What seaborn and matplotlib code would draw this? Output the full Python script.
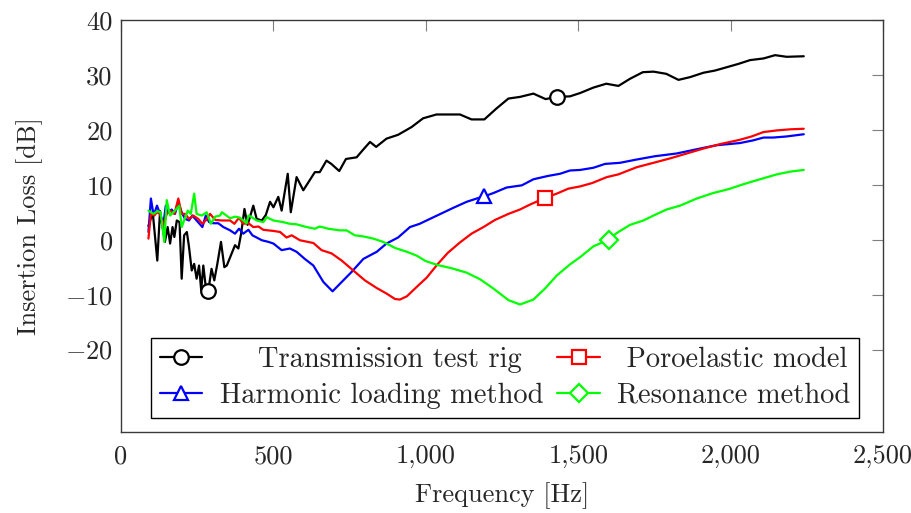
import numpy as np
import pandas as pd
import matplotlib
matplotlib.use("Agg")
import matplotlib.pyplot as plt
from matplotlib.ticker import FixedLocator, FuncFormatter
import seaborn as sns

# Measured insertion loss spectra
rig_f = [90, 104, 119, 128, 144, 153, 161, 169, 175, 183, 192, 199, 207, 216, 223,
         232, 240, 248, 256, 263, 270, 278, 286, 297, 306, 316, 328, 339, 347, 358,
         374, 385, 394, 405, 415, 425, 434, 445, 462, 475, 489, 500, 516, 527, 547,
         557, 576, 598, 636, 652, 674, 690, 716, 738, 773, 793, 817, 837, 871, 909,
         953, 991, 1035, 1112, 1150, 1192, 1232, 1271, 1309, 1353, 1393, 1429, 1473,
         1506, 1550, 1592, 1632, 1670, 1712, 1747, 1789, 1829, 1867, 1911, 1949,
         1987, 2025, 2064, 2108, 2146, 2184, 2240]
rig_il = [2.5, 5.0, -3.8, 5.2, -0.4, 2.3, -0.7, 2.3, 0.5, 3.5, 3.2, -7.1, 0.8, 1.4, -1.3,
          -5.6, -4.4, -7.1, -4.7, -9.2, -4.7, -8.6, -9.4, -5.3, -7.4, -4.4, -0.4, -5.0, -4.7, -3.2,
          -1.0, -1.6, 1.1, 5.6, 2.7, 4.5, 6.2, 3.8, 3.5, 4.5, 6.9, 5.9, 7.8, 5.3, 12.0,
          5.0, 11.4, 9.0, 12.3, 12.3, 14.4, 13.8, 12.5, 14.7, 15.0, 16.3, 17.8, 16.9, 18.4, 19.1,
          20.5, 22.1, 22.8, 22.8, 21.9, 21.9, 23.9, 25.7, 26.0, 26.6, 25.6, 26.0, 26.1,
          26.7, 27.7, 28.4, 28.0, 29.3, 30.5, 30.6, 30.2, 29.1, 29.6, 30.4, 30.8,
          31.4, 32.0, 32.7, 33.0, 33.6, 33.3, 33.4]

harm_f = [90, 98, 107, 118, 128, 139, 147, 155, 166, 177, 188, 199, 210, 223, 234,
          248, 267, 278, 289, 303, 319, 336, 358, 374, 387, 401, 418, 431, 445, 462,
          484, 500, 527, 554, 576, 603, 631, 664, 694, 724, 756, 795, 839, 871, 909,
          948, 980, 1014, 1052, 1090, 1134, 1167, 1192, 1222, 1265, 1315, 1353, 1400,
          1440, 1473, 1506, 1550, 1588, 1637, 1692, 1752, 1823, 1900, 1954, 2031,
          2075, 2108, 2140, 2184, 2240]
harm_il = [1.4, 7.5, 4.4, 6.2, 4.7, 2.9, 6.2, 5.0, 5.5, 4.7, 6.8, 5.0, 3.8, 3.5, 4.4,
           3.5, 2.3, 4.4, 3.2, 3.0, 3.0, 2.3, 1.7, 1.1, 2.0, 1.1, 1.8, 0.8, 0.4, -0.1,
           -0.4, -0.7, -1.9, -1.6, -2.2, -3.5, -4.7, -7.7, -9.4, -7.7, -5.9, -3.5, -2.2, -0.7, 0.4,
           2.3, 2.9, 3.8, 4.8, 5.8, 6.9, 7.5, 7.9, 8.5, 9.5, 9.9, 11.0, 11.6,
           12.0, 12.6, 12.7, 13.1, 13.8, 14.0, 14.6, 15.2, 15.7, 16.6, 17.2, 17.6,
           18.1, 18.6, 18.6, 18.8, 19.2]

poro_f = [90, 98, 109, 118, 128, 139, 150, 161, 175, 188, 199, 210, 223, 237, 253,
          267, 278, 292, 309, 331, 358, 372, 387, 401, 418, 434, 451, 467, 500, 522,
          543, 560, 587, 631, 658, 691, 724, 762, 800, 839, 871, 899, 915, 938, 970,
          1003, 1038, 1072, 1112, 1150, 1189, 1227, 1271, 1309, 1342, 1391, 1430, 1468,
          1506, 1545, 1594, 1632, 1692, 1747, 1801, 1856, 1911, 1965, 2031, 2069,
          2108, 2152, 2196, 2240]
poro_il = [0.2, 4.7, 4.4, 5.0, 4.7, 2.6, 4.7, 5.3, 4.7, 7.5, 4.7, 4.7, 3.8, 4.4, 3.8,
           2.9, 3.5, 4.7, 3.6, 3.5, 3.5, 2.9, 4.0, 2.9, 3.0, 2.3, 2.4, 1.8, 1.6, 1.4,
           0.4, 0.8, -0.1, -0.6, -1.9, -2.5, -3.8, -5.6, -7.4, -8.8, -9.8, -10.8, -10.9, -10.3, -8.6,
           -6.9, -4.5, -2.4, -0.5, 1.1, 2.3, 3.6, 4.7, 5.5, 6.4, 7.6, 8.4, 9.3,
           9.7, 10.3, 11.4, 11.9, 13.2, 14.0, 14.8, 15.7, 16.6, 17.4, 18.2, 18.8,
           19.6, 19.9, 20.1, 20.2]

reso_f = [90, 106, 120, 130, 142, 150, 161, 177, 191, 199, 219, 229, 240, 248, 265,
          281, 295, 309, 325, 331, 358, 374, 390, 412, 418, 429, 445, 467, 478, 500,
          532, 554, 576, 609, 636, 652, 680, 718, 740, 767, 795, 828, 860, 882, 899,
          938, 970, 1000, 1038, 1085, 1134, 1178, 1222, 1271, 1309, 1353, 1391, 1430,
          1473, 1508, 1550, 1600, 1626, 1670, 1714, 1747, 1790, 1834, 1889, 1943,
          1993, 2042, 2096, 2152, 2196, 2240]
reso_il = [5.3, 4.7, 5.2, 5.0, -0.4, 7.2, 4.4, 5.3, 6.2, 2.3, 5.3, 4.7, 8.4, 4.7, 4.4,
           5.0, 2.9, 4.2, 4.4, 5.0, 3.9, 4.2, 4.0, 3.0, 4.4, 4.1, 3.5, 3.2, 4.1, 3.5,
           3.2, 2.9, 2.8, 2.3, 2.0, 2.4, 2.0, 1.7, 1.7, 0.8, 0.6, 0.2, -0.4, -1.0, -1.5,
           -2.2, -2.9, -3.9, -4.6, -5.2, -6.0, -7.2, -8.9, -11.0, -11.8, -10.9, -8.9, -6.5,
           -4.5, -3.1, -1.2, 0.0, 1.2, 2.7, 3.5, 4.4, 5.5, 6.2, 7.5, 8.5,
           9.2, 10.1, 11.0, 11.9, 12.4, 12.7]

# (label, frequencies, values, colour, marker, where to place the marker)
series = [
    ("Transmission test rig", rig_f, rig_il, "black", "o", [286, 1429]),
    ("Harmonic loading method", harm_f, harm_il, "blue", "^", [1192]),
    ("Poroelastic model", poro_f, poro_il, "red", "s", [1391]),
    ("Resonance method", reso_f, reso_il, "#00ff00", "D", [1600]),
]
# leading padding so that legend labels sit centred in their column
label_pad = {"Transmission test rig": "    ", "Harmonic loading method": "",
             "Poroelastic model": " ", "Resonance method": ""}

FS = 19
LEG_FS = 20.5

sns.set_theme(style="white")
plt.rcParams["font.family"] = ["cmr10", "DejaVu Serif"]
plt.rcParams["mathtext.fontset"] = "cm"
plt.rcParams["axes.formatter.use_mathtext"] = True

fig = plt.figure(figsize=(9.12, 5.13), dpi=100)
ax = fig.add_axes([0.1327, 0.158, 0.8355, 0.803])

for name, f, il, col, mk, mark_at in series:
    df = pd.DataFrame({"Frequency": f, "IL": il})
    idx = [int(np.argmin(np.abs(np.asarray(f) - m))) for m in mark_at]
    sns.lineplot(data=df, x="Frequency", y="IL", ax=ax, color=col, lw=1.6,
                 sort=False, estimator=None, marker=mk, markevery=idx,
                 markersize=10.5 if mk != "D" else 9.5, markerfacecolor="white",
                 markeredgecolor=col, markeredgewidth=1.6,
                 label=label_pad[name] + name)

ax.set_xlim(0, 2500)
ax.set_ylim(-35, 40)
ax.xaxis.set_major_locator(FixedLocator([0, 500, 1000, 1500, 2000, 2500]))
ax.yaxis.set_major_locator(FixedLocator([-20, -10, 0, 10, 20, 30, 40]))


def fmt(v, pos):
    v = int(round(v))
    s = f"{abs(v):,}"
    return f"$-{s}$" if v < 0 else s


ax.xaxis.set_major_formatter(FuncFormatter(fmt))
ax.yaxis.set_major_formatter(FuncFormatter(fmt))
ax.tick_params(axis="both", which="major", direction="in", length=8, width=0.8,
               color="#7f7f7f", labelsize=FS, top=True, right=True, pad=6)
ax.tick_params(axis="x", pad=9)
for sp in ax.spines.values():
    sp.set_color("#3a3a3a")
    sp.set_linewidth(1.0)

ax.set_xlabel("Frequency [Hz]", fontsize=FS, labelpad=10)
ax.set_ylabel("Insertion Loss [dB]", fontsize=FS, labelpad=16)

h, l = ax.get_legend_handles_labels()
leg = ax.legend(h, l, ncol=2,
                loc="lower center", bbox_to_anchor=(0.504, 0.034), fontsize=LEG_FS,
                borderaxespad=0,
                frameon=True, fancybox=False, edgecolor="black", framealpha=1,
                handlelength=1.5, columnspacing=0.5, handletextpad=0.6,
                borderpad=0.32, labelspacing=0.32)
leg.get_frame().set_linewidth(1.0)

fig.savefig("out.png", dpi=100)
